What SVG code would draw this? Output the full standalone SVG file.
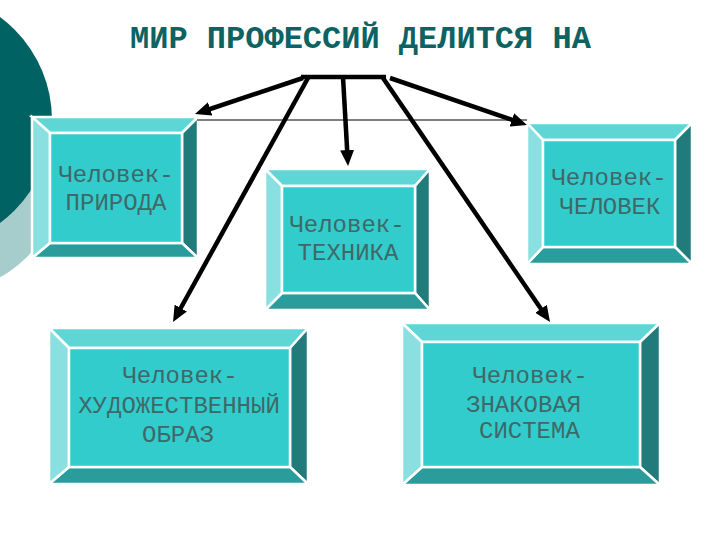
<svg xmlns="http://www.w3.org/2000/svg" width="720" height="540" viewBox="0 0 720 540">
<defs>
<marker id="ah" markerUnits="userSpaceOnUse" markerWidth="16" markerHeight="14" refX="8" refY="7" orient="auto" viewBox="0 0 16 14">
<path d="M0,0 L16,7 L0,14 z" fill="#000"/>
</marker>
<style>
.bv polygon, .bv rect{stroke:#fff;stroke-width:2.5;stroke-linejoin:miter}
.t{fill:#5fd6d6}.r{fill:#217b7b}.b{fill:#2a9c9c}.l{fill:#8ae0e0}.f{fill:#33cccc}
.lbl{font-family:"Liberation Mono","Courier New",monospace;font-size:24px;fill:#3f6868;text-anchor:middle}
.title{font-family:"Liberation Mono","Courier New",monospace;font-size:32px;font-weight:bold;fill:#0e6262}
.arr{stroke:#000;stroke-width:4.5;fill:none;marker-end:url(#ah)}
</style>
</defs>
<rect width="720" height="540" fill="#fff"/>
<g id="decor">
<circle cx="-60" cy="170" r="123" fill="#a6cccc"/>
<circle cx="-76" cy="120" r="128" fill="#006262"/>
</g>
<text class="title" x="130" y="48">МИР ПРОФЕССИЙ ДЕЛИТСЯ НА</text>
<g id="box-priroda" class="bv">
<polygon class="t" points="32,117 198,117 182,133 50,133"/>
<polygon class="r" points="198,117 198,258 182,243 182,133"/>
<polygon class="b" points="32,258 50,243 182,243 198,258"/>
<polygon class="l" points="32,117 50,133 50,243 32,258"/>
<rect class="f" x="50" y="133" width="132" height="110"/>
<text class="lbl" x="116" y="182">Человек-</text>
<text class="lbl" x="116" y="210">ПРИРОДА</text>
</g>
<g id="box-tehnika" class="bv">
<polygon class="t" points="265,169 430,169 415,186 282,186"/>
<polygon class="r" points="430,169 430,310 415,293 415,186"/>
<polygon class="b" points="265,310 282,293 415,293 430,310"/>
<polygon class="l" points="265,169 282,186 282,293 265,310"/>
<rect class="f" x="282" y="186" width="133" height="107"/>
<text class="lbl" x="347" y="232">Человек-</text>
<text class="lbl" x="348" y="260">ТЕХНИКА</text>
</g>
<g id="box-chelovek" class="bv">
<polygon class="t" points="527,123 692,123 675,140 543,140"/>
<polygon class="r" points="692,123 692,264 675,247 675,140"/>
<polygon class="b" points="527,264 543,247 675,247 692,264"/>
<polygon class="l" points="527,123 543,140 543,247 527,264"/>
<rect class="f" x="543" y="140" width="132" height="107"/>
<text class="lbl" x="609" y="185">Человек-</text>
<text class="lbl" x="610" y="214">ЧЕЛОВЕК</text>
</g>
<g id="box-obraz" class="bv">
<polygon class="t" points="49,328 308,328 290,348 69,348"/>
<polygon class="r" points="308,328 308,484 290,467 290,348"/>
<polygon class="b" points="49,484 69,467 290,467 308,484"/>
<polygon class="l" points="49,328 69,348 69,467 49,484"/>
<rect class="f" x="69" y="348" width="221" height="119"/>
<text class="lbl" x="180" y="383">Человек-</text>
<text class="lbl" x="179" y="413">ХУДОЖЕСТВЕННЫЙ</text>
<text class="lbl" x="178" y="442">ОБРАЗ</text>
</g>
<g id="box-znak" class="bv">
<polygon class="t" points="402,323 660,323 640,342 422,342"/>
<polygon class="r" points="660,323 660,485 640,467 640,342"/>
<polygon class="b" points="402,485 422,467 640,467 660,485"/>
<polygon class="l" points="402,323 422,342 422,467 402,485"/>
<rect class="f" x="422" y="342" width="218" height="125"/>
<text class="lbl" x="530" y="383">Человек-</text>
<text class="lbl" x="466" y="412" style="text-anchor:start">ЗНАКОВАЯ</text>
<text class="lbl" x="479" y="438" style="text-anchor:start">СИСТЕМА</text>
</g>
<g id="connectors">
<line x1="197" y1="120" x2="527" y2="120" stroke="#000" stroke-width="1.2"/>
<line x1="301" y1="77" x2="386" y2="77" stroke="#000" stroke-width="4.5"/>
<line class="arr" x1="303" y1="78" x2="202.6" y2="111.5"/>
<line class="arr" x1="308" y1="78" x2="176.9" y2="315"/>
<line class="arr" x1="343" y1="77" x2="347.6" y2="158"/>
<line class="arr" x1="383" y1="78" x2="545.5" y2="315.4"/>
<line class="arr" x1="390" y1="78" x2="519.4" y2="122.4"/>
</g>
</svg>
